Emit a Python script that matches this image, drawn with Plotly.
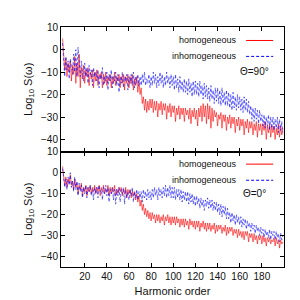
import plotly.graph_objects as go
from plotly.subplots import make_subplots

harmonic = list(range(200))

# Theta = 90 deg, homogeneous (log10 S)
top_homog = [
    5, -2, -9, -4, -12, -6, -10, -5, -14, -7,
    -11, -3, -15, -6, -12, -2, -17, -8, -13, -7,
    -15, -9, -12, -8, -16, -10, -13, -9, -17, -10,
    -14, -9, -16, -11, -13, -10, -17, -11, -15, -10,
    -16, -12, -14, -11, -17, -12, -15, -10, -16, -12,
    -14, -11, -17, -12, -15, -11, -18, -12, -15, -11,
    -17, -12, -15, -11, -18, -13, -16, -12, -19, -14,
    -20, -17, -24, -21, -27, -22, -28, -23, -27, -22,
    -26, -22, -28, -23, -27, -23, -30, -24, -27, -23,
    -29, -24, -27, -24, -31, -25, -28, -24, -30, -25,
    -28, -25, -32, -26, -29, -25, -31, -26, -29, -26,
    -32, -26, -29, -27, -31, -26, -33, -27, -30, -26,
    -31, -27, -34, -26, -30, -25, -32, -24, -30, -25,
    -33, -24, -31, -25, -35, -26, -32, -27, -30, -28,
    -34, -29, -31, -28, -35, -29, -32, -29, -36, -30,
    -33, -29, -35, -30, -33, -30, -37, -31, -34, -30,
    -36, -31, -34, -31, -38, -32, -35, -31, -37, -32,
    -35, -32, -38, -33, -36, -32, -39, -33, -36, -33,
    -38, -33, -36, -32, -40, -34, -37, -33, -39, -34,
    -37, -34, -40, -35, -38, -33, -39, -34, -38, -35,
]

# Theta = 90 deg, inhomogeneous
top_inhom = [
    3, -6, -12, -3, -9, -5, -13, -4, -8, -11,
    -2, -10, 0, -12, 1, -8, -12, -5, -10, -14,
    -6, -12, -8, -15, -7, -11, -9, -16, -8, -12,
    -10, -14, -9, -17, -11, -13, -8, -16, -12, -14,
    -10, -18, -11, -14, -9, -17, -12, -14, -10, -16,
    -11, -19, -12, -15, -10, -17, -12, -14, -11, -18,
    -12, -15, -11, -16, -10, -17, -12, -15, -11, -16,
    -12, -16, -11, -15, -10, -16, -13, -15, -11, -17,
    -12, -16, -10, -15, -11, -17, -12, -16, -10, -15,
    -11, -17, -12, -16, -10, -15, -12, -17, -11, -16,
    -12, -18, -11, -17, -13, -19, -12, -18, -14, -19,
    -13, -19, -14, -20, -13, -19, -15, -21, -14, -20,
    -14, -20, -15, -21, -14, -20, -16, -22, -15, -21,
    -16, -22, -17, -23, -16, -22, -18, -24, -17, -23,
    -17, -24, -18, -25, -17, -24, -19, -25, -18, -25,
    -19, -26, -20, -27, -19, -26, -21, -27, -20, -26,
    -21, -27, -22, -28, -21, -27, -22, -28, -23, -29,
    -25, -31, -26, -32, -26, -31, -27, -33, -27, -32,
    -29, -34, -29, -35, -30, -34, -29, -36, -30, -35,
    -30, -36, -31, -35, -30, -37, -31, -36, -32, -37,
]

# Theta = 0 deg, homogeneous
bot_homog = [
    3, -3, -6, -2, -7, -3, -5, -1, -6, -4,
    -8, -3, -7, -5, -10, -6, -8, -5, -11, -7,
    -9, -6, -11, -7, -9, -6, -10, -7, -9, -6,
    -10, -7, -9, -6, -11, -7, -9, -6, -10, -8,
    -9, -6, -11, -7, -10, -7, -9, -6, -11, -8,
    -10, -7, -9, -7, -11, -8, -10, -7, -12, -8,
    -10, -8, -12, -9, -11, -9, -13, -10, -14, -11,
    -16, -13, -18, -15, -20, -17, -21, -18, -22, -19,
    -23, -19, -22, -20, -24, -20, -23, -20, -24, -21,
    -23, -20, -25, -21, -23, -20, -24, -21, -25, -21,
    -24, -21, -25, -21, -24, -22, -26, -22, -25, -22,
    -26, -22, -25, -23, -27, -22, -25, -23, -26, -23,
    -27, -23, -26, -23, -28, -24, -26, -23, -27, -24,
    -28, -24, -27, -24, -28, -25, -27, -24, -29, -25,
    -28, -25, -27, -25, -29, -26, -28, -25, -30, -26,
    -29, -26, -28, -26, -30, -27, -29, -27, -31, -27,
    -30, -28, -31, -28, -32, -28, -30, -28, -33, -29,
    -31, -29, -33, -29, -32, -30, -34, -30, -32, -30,
    -34, -30, -33, -31, -35, -31, -33, -31, -34, -32,
    -33, -31, -35, -31, -34, -32, -36, -32, -34, -33,
]

# Theta = 0 deg, inhomogeneous
bot_inhom = [
    2, -4, -7, -3, -8, -2, -6, 0, -7, -4,
    -9, -2, -8, -4, -11, -5, -9, -6, -12, -7,
    -10, -6, -12, -7, -9, -6, -11, -8, -13, -7,
    -10, -7, -12, -6, -9, -8, -13, -7, -10, -6,
    -11, -7, -14, -8, -10, -7, -13, -8, -15, -8,
    -11, -7, -14, -8, -10, -7, -15, -8, -12, -9,
    -13, -8, -11, -7, -14, -9, -12, -8, -13, -9,
    -12, -9, -14, -8, -12, -9, -13, -8, -12, -9,
    -13, -8, -12, -7, -11, -8, -13, -7, -11, -8,
    -12, -7, -11, -6, -12, -7, -11, -6, -12, -7,
    -12, -7, -13, -8, -12, -8, -13, -8, -14, -9,
    -13, -9, -14, -9, -15, -10, -14, -10, -15, -11,
    -16, -11, -15, -12, -17, -12, -16, -13, -18, -13,
    -16, -12, -17, -13, -17, -13, -18, -14, -18, -14,
    -19, -15, -20, -15, -21, -16, -20, -16, -22, -17,
    -22, -19, -24, -19, -23, -20, -25, -20, -24, -21,
    -25, -21, -26, -22, -25, -22, -27, -23, -26, -24,
    -28, -24, -27, -25, -29, -25, -28, -26, -30, -26,
    -29, -27, -31, -27, -30, -28, -31, -27, -32, -28,
    -30, -28, -32, -28, -31, -29, -33, -29, -32, -30,
]

xtick_vals = [20, 40, 60, 80, 100, 120, 140, 160, 180]
ytick_vals = [10, 0, -10, -20, -30, -40]
panel_labels = ["Θ=90°", "Θ=0°"]
series_names = ["homogeneous", "inhomogeneous"]

RED = "#ff0000"
BLUE = "#0000ff"
FONT = "Liberation Sans"

fig = make_subplots(rows=2, cols=1, shared_xaxes=True, vertical_spacing=0)

panels = [(top_homog, top_inhom), (bot_homog, bot_inhom)]
for i, (h, inh) in enumerate(panels, start=1):
    fig.add_trace(go.Scatter(x=harmonic, y=h, mode="lines",
                             line=dict(color=RED, width=0.6),
                             showlegend=False), row=i, col=1)
    fig.add_trace(go.Scatter(x=harmonic, y=inh, mode="lines",
                             line=dict(color=BLUE, width=0.6, dash="3px,2px"),
                             showlegend=False), row=i, col=1)

axis_common = dict(showline=True, linecolor="black", linewidth=1, mirror="allticks",
                   ticks="inside", ticklen=4, tickcolor="black", showgrid=False,
                   zeroline=False, tickfont=dict(family=FONT, size=10, color="#111"))

fig.update_xaxes(range=[-1.4, 200], tickvals=xtick_vals, **axis_common)
fig.update_xaxes(showticklabels=False, row=1, col=1)
fig.update_xaxes(title=dict(text="Harmonic order", font=dict(family=FONT, size=11, color="#111"),
                            standoff=6), row=2, col=1)
fig.update_yaxes(tickvals=ytick_vals, **axis_common)
fig.update_yaxes(range=[-45.4, 10.1], domain=[0.481, 1.0], row=1, col=1)
fig.update_yaxes(range=[-45.0, 10.1], domain=[0.0, 0.481], row=2, col=1)
for r in (1, 2):
    fig.update_yaxes(title=dict(text="Log<sub>10</sub> S(ω)",
                                font=dict(family=FONT, size=11, color="#111"),
                                standoff=6), row=r, col=1)

# legend-like key drawn inside each panel (gnuplot style: text then sample)
yrefs = ["y", "y2"]
xrefs = ["x", "x2"]
key_y = [(4.1, -3.0, -9.9), (4.1, -3.6, -9.8)]
for p in range(2):
    yr, xr = yrefs[p], xrefs[p]
    y1, y2, y3 = key_y[p]
    for name, yy, col, dash in [(series_names[0], y1, RED, "solid"),
                                (series_names[1], y2, BLUE, "3px,2px")]:
        fig.add_annotation(x=159.5, y=yy, xref=xr, yref=yr, text=name, showarrow=False,
                           xanchor="right", yanchor="middle",
                           font=dict(family=FONT, size=9, color="#111"))
        fig.add_shape(type="line", x0=165.8, x1=190.2, y0=yy, y1=yy, xref=xr, yref=yr,
                      line=dict(color=col, width=1, dash=dash))
    fig.add_annotation(x=173, y=y3, xref=xr, yref=yr, text=panel_labels[p], showarrow=False,
                       xanchor="center", yanchor="middle",
                       font=dict(family=FONT, size=10, color="#111"))

fig.update_layout(width=300, height=300, margin=dict(l=52.5, r=24, t=19, b=39),
                  paper_bgcolor="white", plot_bgcolor="white", showlegend=False)

fig.write_html("out.html")
